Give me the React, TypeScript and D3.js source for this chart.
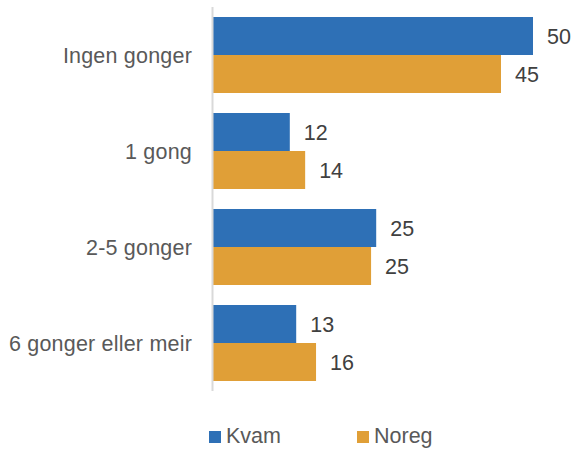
import React from 'react';
import * as d3 from 'd3';

const categories = ['Ingen gonger', '1 gong', '2-5 gonger', '6 gonger eller meir'];
const seriesNames = ['Kvam', 'Noreg'];
const kvamValues = [50, 12, 25.5, 13];
const noregValues = [45, 14.4, 24.7, 16.1];
const valueLabels = [
  ['50', '12', '25', '13'],
  ['45', '14', '25', '16'],
];
const colors = ['#2E70B6', '#E09F37'];

const width = 574;
const height = 449;
const font = '"Liberation Sans", Arial, sans-serif';
const fontSize = 21.5;

export default function App() {
  const series = [kvamValues, noregValues];

  const x = d3.scaleLinear().domain([0, 50]).range([213, 533]);
  const y = d3.scaleBand<string>()
    .domain(categories)
    .range([7, 391])
    .paddingInner(20 / 96)
    .paddingOuter(10 / 96);
  const inner = d3.scaleBand<string>()
    .domain(seriesNames)
    .range([0, y.bandwidth()]);

  return (
    <svg width={width} height={height} style={{ position: 'absolute', left: 0, top: 0 }}>
      <rect width={width} height={height} fill="#fff" />
      {categories.map((c, ci) => (
        <g key={c}>
          <text
            x={192}
            y={(y(c) ?? 0) + y.bandwidth() / 2 + 1}
            textAnchor="end"
            dominantBaseline="central"
            fontFamily={font}
            fontSize={fontSize}
            letterSpacing={0.2}
            fill="#595959"
          >
            {c}
          </text>
          {seriesNames.map((s, si) => {
            const v = series[si][ci];
            const top = (y(c) ?? 0) + (inner(s) ?? 0);
            return (
              <g key={s}>
                <rect
                  x={x(0)}
                  y={top}
                  width={x(v) - x(0)}
                  height={inner.bandwidth()}
                  fill={colors[si]}
                />
                <text
                  x={x(v) + 14}
                  y={top + inner.bandwidth() / 2 + 1}
                  dominantBaseline="central"
                  fontFamily={font}
                  fontSize={fontSize}
                  fill="#404040"
                >
                  {valueLabels[si][ci]}
                </text>
              </g>
            );
          })}
        </g>
      ))}
      <line x1={212.5} x2={212.5} y1={7} y2={391} stroke="#d9d9d9" strokeWidth={2} />
      {seriesNames.map((s, si) => {
        const lx = si === 0 ? 209 : 357;
        return (
          <g key={s}>
            <rect x={lx} y={431} width={12} height={12} fill={colors[si]} />
            <text x={lx + 17} y={443} fontFamily={font} fontSize={fontSize} fill="#595959">
              {s}
            </text>
          </g>
        );
      })}
    </svg>
  );
}
